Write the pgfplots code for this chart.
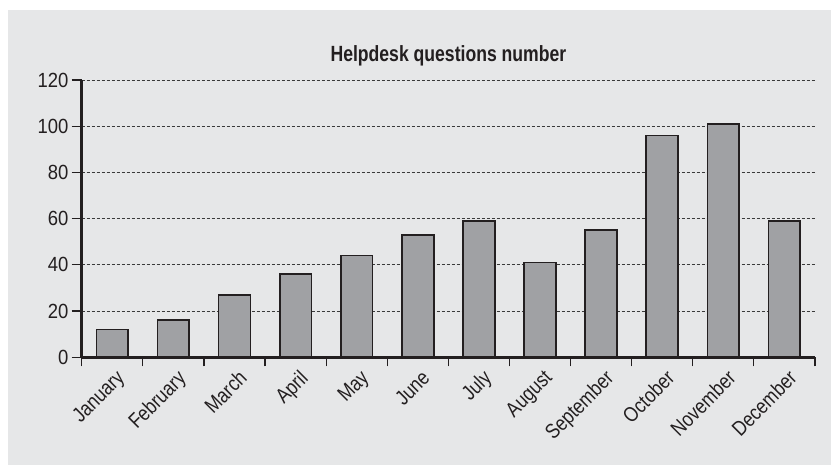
\documentclass[border=0pt]{standalone}
\usepackage{fontspec}
\setmainfont{Liberation Sans}
\newfontfamily\titlefont{Liberation Sans Bold}[FakeStretch=0.8]
\newfontfamily\ytickfont{Liberation Sans}[FakeStretch=0.9]
\usepackage{graphicx}
\usepackage{pgfplots}
\pgfplotsset{compat=1.18}
\definecolor{bg}{HTML}{E6E7E8}
\definecolor{barc}{HTML}{A0A1A4}
\definecolor{gridc}{HTML}{3A3A3A}
\definecolor{txt}{HTML}{231F20}
\newcommand\cn[1]{\scalebox{0.84}[1]{#1}}
\begin{document}
\begin{tikzpicture}[x=1pt,y=1pt]
\fill[white] (0,0) rectangle (831,465);
\fill[bg] (8,0) rectangle (831,455);
\begin{axis}[
  at={(81.7pt,107.7pt)}, anchor=south west,
  scale only axis, width=733.3pt, height=277.3pt,
  xmin=-0.5, xmax=11.5, ymin=0, ymax=120,
  axis x line=bottom, axis y line=left,
  axis line style={-, line width=2.6pt, draw=txt},
  ytick={0,20,...,120},
  ymajorgrids,
  grid style={dash pattern=on 3pt off 2pt, draw=gridc, line width=0.8pt},
  xtick={0,...,11},
  xticklabels={\cn{January},\cn{February},\cn{March},\cn{April},\cn{May},\cn{June},\cn{July},\cn{August},\cn{September},\cn{October},\cn{November},\cn{December}},
  minor xtick={-0.5,0.5,...,11.5},
  major x tick style={draw=none},
  minor x tick style={draw=txt, line width=1.2pt},
  major y tick style={draw=txt, line width=1.2pt},
  tick align=outside,
  major tick length=10pt, minor tick length=9pt,
  /pgf/number format/assume math mode=true,
  tick label style={text=txt},
  yticklabel style={font=\ytickfont\fontsize{20.5}{24}\selectfont, inner sep=2pt, xshift=-1pt},
  xticklabel style={font=\fontsize{21}{24}\selectfont, rotate=45, anchor=north east, inner sep=1pt, xshift=2pt, yshift=-2pt},
  ybar, bar width=0.52,
  clip=false,
]
\addplot[fill=barc, draw=txt, line width=1.7pt] coordinates {
  (0,12) (1,16) (2,27) (3,36) (4,44) (5,53)
  (6,59) (7,41) (8,55) (9,96) (10,101) (11,59)
};
\end{axis}
\node[text=txt, font=\titlefont\fontsize{22}{26}\selectfont] at (448.4,409) {Helpdesk questions number};
\end{tikzpicture}
\end{document}
